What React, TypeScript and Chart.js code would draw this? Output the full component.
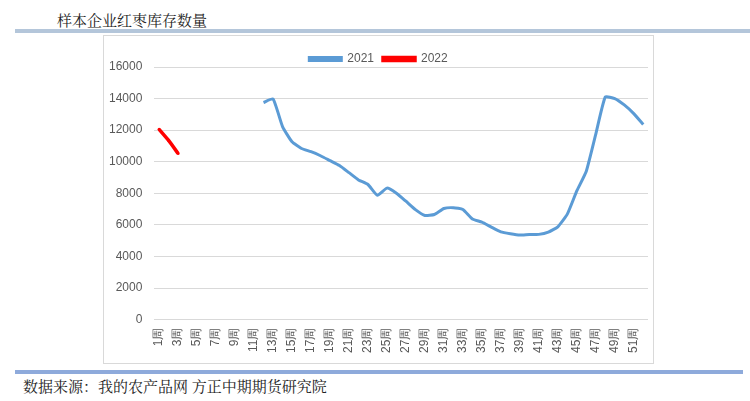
import React, { useEffect, useRef } from "react";
import { Chart, registerables } from "chart.js";

Chart.register(...registerables);

const weeks: string[] = [
  "1周", "2周", "3周", "4周", "5周", "6周", "7周", "8周", "9周", "10周",
  "11周", "12周", "13周", "14周", "15周", "16周", "17周", "18周", "19周", "20周",
  "21周", "22周", "23周", "24周", "25周", "26周", "27周", "28周", "29周", "30周",
  "31周", "32周", "33周", "34周", "35周", "36周", "37周", "38周", "39周", "40周",
  "41周", "42周", "43周", "44周", "45周", "46周", "47周", "48周", "49周", "50周",
  "51周", "52周",
];

const series2021: (number | null)[] = [
  null, null, null, null, null, null, null, null, null, null,
  null, 13750, 13980, 12230, 11260, 10840, 10640, 10380, 10070, 9760,
  9310, 8850, 8560, 7870, 8330, 8010, 7500, 6970, 6600, 6660,
  7040, 7090, 6980, 6380, 6180, 5860, 5560, 5440, 5360, 5400,
  5400, 5540, 5880, 6680, 8150, 9400, 11750, 14100, 14000, 13600,
  13050, 12360,
];

const series2022: (number | null)[] = [
  12050, 11350, 10520,
];

const yTicks = [0, 2000, 4000, 6000, 8000, 10000, 12000, 14000, 16000];

const title = "样本企业红枣库存数量";
const source = "数据来源：我的农产品网  方正中期期货研究院";

const legendShift = {
  id: "legendShift",
  beforeInit(chart: any) {
    const legend = chart.legend;
    if (!legend) return;
    const orig = legend.fit;
    legend.fit = function () {
      orig.call(this);
      this.height -= 8;
    };
  },
};

export default function App() {
  const ref = useRef<HTMLCanvasElement | null>(null);

  useEffect(() => {
    if (!ref.current) return;
    const chart = new Chart(ref.current, {
      type: "line",
      data: {
        labels: weeks,
        datasets: [
          {
            label: "2021",
            data: series2021,
            borderColor: "#5b9bd5",
            backgroundColor: "#5b9bd5",
            borderWidth: 3,
            pointRadius: 0,
            tension: 0.15,
            spanGaps: false,
          },
          {
            label: "2022",
            data: series2022,
            borderColor: "#ff0000",
            backgroundColor: "#ff0000",
            borderWidth: 3.5,
            pointRadius: 1.5,
            pointBorderWidth: 0,
            tension: 0.15,
          },
        ],
      },
      plugins: [legendShift],
      options: {
        animation: false,
        responsive: false,
        maintainAspectRatio: false,
        layout: { padding: { left: 5, right: 5, top: 8, bottom: 2 } },
        plugins: {
          legend: {
            position: "top",
            labels: {
              boxWidth: 32,
              boxHeight: 3,
              padding: 9,
              color: "#595959",
              font: { family: "'Liberation Sans', Arial, sans-serif", size: 12 },
            },
          },
          tooltip: { enabled: false },
        },
        scales: {
          x: {
            type: "category",
            offset: true,
            afterFit: (s: any) => {
              s.paddingRight = 0;
              s.paddingLeft = 0;
            },
            grid: { display: false, drawTicks: false },
            border: { display: false },
            ticks: {
              autoSkip: false,
              maxRotation: 90,
              minRotation: 90,
              padding: 8,
              color: "#595959",
              font: { family: "'Liberation Sans', Arial, sans-serif", size: 12 },
              callback: (_v: any, i: number) => (i % 2 === 0 ? weeks[i] : ""),
            },
          },
          y: {
            min: 0,
            max: 16000,
            afterBuildTicks: (axis: any) => {
              axis.ticks = yTicks.map((v) => ({ value: v }));
            },
            afterFit: (s: any) => {
              s.width = s.width - 12;
            },
            grid: { color: "#d9d9d9", drawTicks: false, lineWidth: 1 },
            border: { display: false },
            ticks: {
              padding: 12,
              color: "#595959",
              font: { family: "'Liberation Sans', Arial, sans-serif", size: 12 },
              callback: (v: any) => String(v),
            },
          },
        },
      },
    });
    return () => chart.destroy();
  }, []);

  const cjk = "'Noto Serif CJK SC', 'Noto Sans CJK SC', serif";

  return (
    <div style={{ position: "absolute", left: 0, top: 0, width: 750, height: 401, background: "#fff", overflow: "hidden" }}>
      <div style={{ position: "absolute", left: 57, top: 9, fontFamily: cjk, fontSize: 15, color: "#222", whiteSpace: "nowrap" }}>
        {title}
      </div>
      <div style={{ position: "absolute", left: 15, top: 29, width: 735, height: 4, background: "#b4c6da" }} />
      <div style={{ position: "absolute", left: 103, top: 35, width: 549, height: 327, border: "1px solid #d9d9d9", boxSizing: "content-box" }}>
        <canvas ref={ref} width={549} height={327} style={{ display: "block", width: 549, height: 327 }} />
      </div>
      <div style={{ position: "absolute", left: 15, top: 370, width: 728, height: 4, background: "#8eaadb" }} />
      <div style={{ position: "absolute", left: 23, top: 375, fontFamily: cjk, fontSize: 15, color: "#222", whiteSpace: "nowrap" }}>
        {source}
      </div>
    </div>
  );
}
